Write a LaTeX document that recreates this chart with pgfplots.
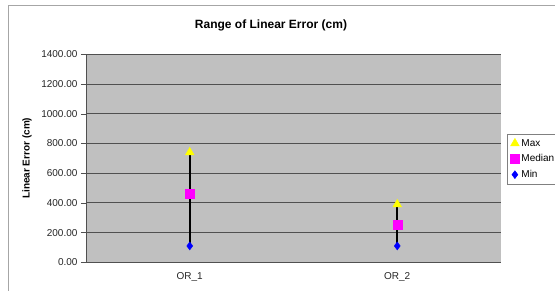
\documentclass[border=0pt]{standalone}
\usepackage{fontspec}
\setmainfont{Liberation Sans}
\usepackage{pgfplots}
\pgfplotsset{compat=1.18}
\definecolor{plotbg}{RGB}{192,192,192}
\definecolor{gridc}{RGB}{80,80,80}
\definecolor{maxc}{RGB}{255,255,0}
\definecolor{medc}{RGB}{255,0,255}
\definecolor{minc}{RGB}{0,0,255}
\begin{document}
\begin{tikzpicture}
\clip (0pt,0pt) rectangle (555pt,291pt);
\fill[white] (0pt,0pt) rectangle (555pt,291pt);
\draw[gray!70, line width=1pt] (8pt,-10pt) rectangle (600pt,285pt);
\node[font=\bfseries\fontsize{12}{14}\selectfont] at (271pt,266pt) {Range of Linear Error (cm)};
\begin{axis}[
  at={(86pt,28.7pt)}, anchor=south west,
  scale only axis, width=415pt, height=208pt,
  xmin=0.5, xmax=2.5, ymin=0, ymax=1400,
  xtick={1,2}, xticklabels={OR\_1,OR\_2},
  extra x ticks={1.5}, extra x tick labels={},
  extra x tick style={major tick length=4pt, tick style={gridc}},
  ytick={0,200,...,1400},
  axis background/.style={fill=plotbg},
  axis line style={gridc},
  axis x line*=bottom, axis y line*=left,
  ymajorgrids, grid style={gridc, line width=1pt},
  tick align=outside, major tick length=5pt,
  x tick style={draw=none},
  y tick style={gridc},
  tick label style={font=\fontsize{10}{12}\selectfont, text=black!85},
  yticklabel style={/pgf/number format/.cd, fixed, fixed zerofill, precision=2, 1000 sep={}, assume math mode=true},
  xticklabel style={yshift=-2pt},
  ylabel={Linear Error (cm)},
  ylabel style={font=\bfseries\fontsize{10}{12}\selectfont, at={(axis description cs:-0.142,0.5)}, anchor=center},
  legend style={at={(1.015,0.617)}, anchor=north west, draw=gray, fill=white,
    font=\fontsize{10}{12}\selectfont, row sep=3pt, inner sep=3pt},
  legend cell align=left,
  legend image code/.code={\path[#1] plot coordinates {(0.1cm,0cm)};},
]
\addplot[black, line width=2pt, forget plot] coordinates {(1,110) (1,740)};
\addplot[black, line width=2pt, forget plot] coordinates {(2,110) (2,390)};
\addplot[only marks, mark=triangle*, mark size=5pt, mark options={fill=maxc, draw=maxc}] coordinates {(1,740) (2,390)};
\addlegendentry{Max}
\addplot[only marks, mark=square*, mark size=4.5pt, mark options={fill=medc, draw=medc}] coordinates {(1,460) (2,255)};
\addlegendentry{Median}
\addplot[only marks, mark=diamond*, mark size=4pt, mark options={fill=minc, draw=minc}] coordinates {(1,110) (2,110)};
\addlegendentry{Min}
\end{axis}
\end{tikzpicture}
\end{document}
